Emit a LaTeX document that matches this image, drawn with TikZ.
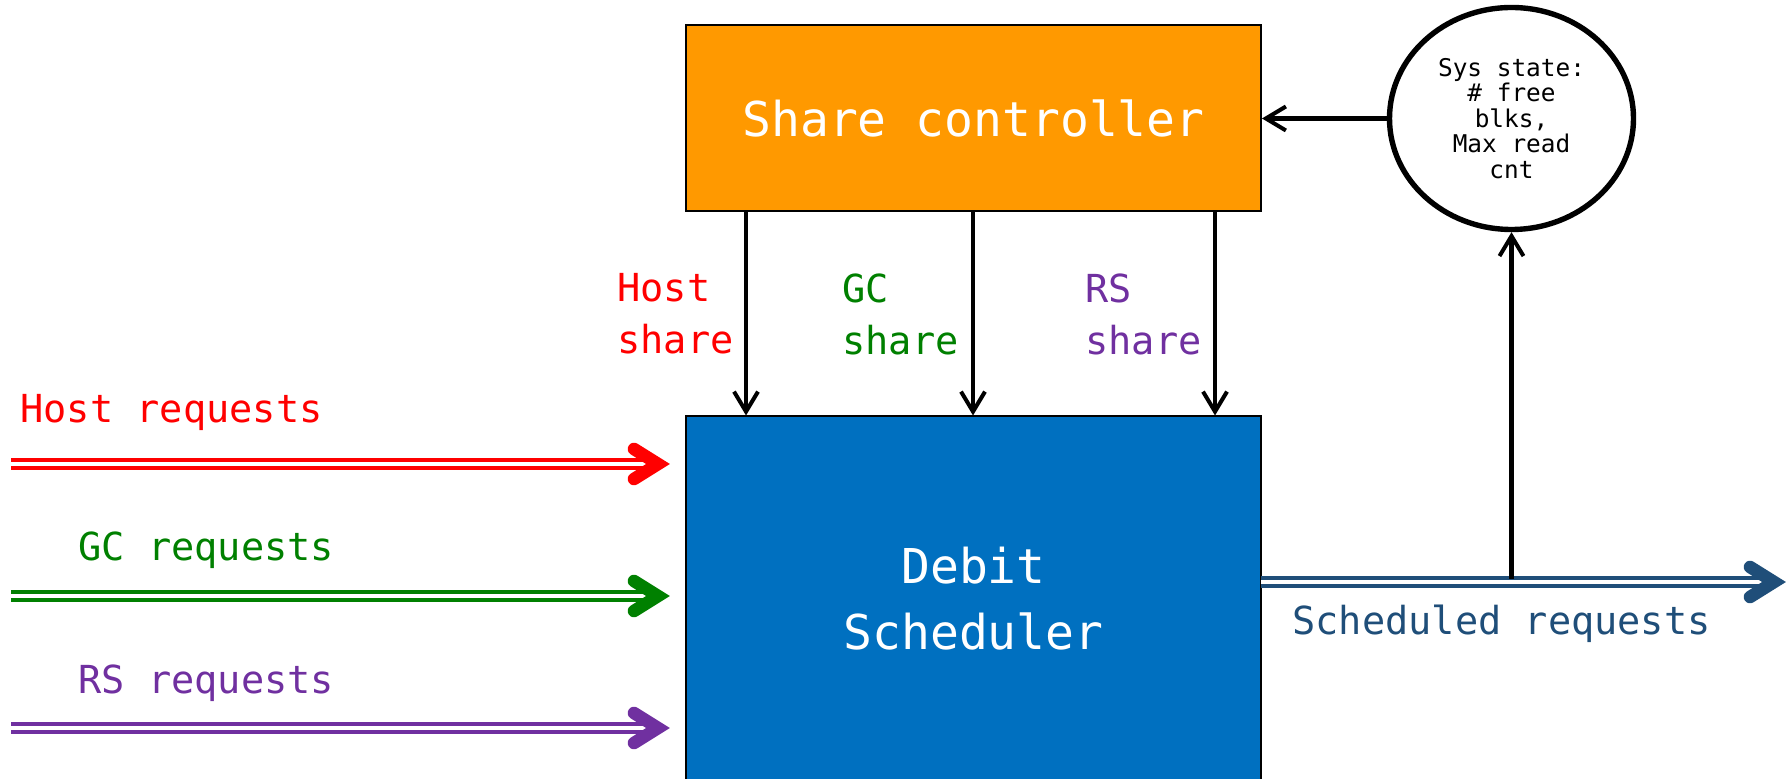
\documentclass[tikz,border=0pt]{standalone}
\usepackage{fontspec}
\newfontfamily\mono{DejaVu Sans Mono}
\usetikzlibrary{arrows.meta,shapes.geometric,calc}
\definecolor{hostred}{HTML}{FF0000}
\definecolor{gcgreen}{HTML}{008000}
\definecolor{rspurple}{HTML}{7030A0}
\definecolor{ctrlorange}{HTML}{FF9900}
\definecolor{schedblue}{HTML}{0070C0}
\definecolor{outnavy}{HTML}{1F4E79}

\begin{document}
\begin{tikzpicture}[x=0.5pt,y=-0.5pt,
  box/.style={draw=black, line width=1pt, rectangle, inner sep=0pt, text=white,
    font=\mono\fontsize{24}{33}\selectfont, align=center},
  lbl/.style={inner sep=0pt, anchor=west, align=left,
    font=\mono\fontsize{19.3}{26}\selectfont},
  feed/.style={line width=1.9pt, double=white, double distance=1.8pt},
  ctl/.style={line width=2.1pt, -{Straight Barb[length=10pt,width=12pt,line width=2pt]}},
  pics/chev/.style={code={\draw[line width=6.3pt, line cap=round, line join=miter]
    (-24,-15) -- (0,0) -- (-24,15);}}
]
\useasboundingbox (0,0) rectangle (1789,779);

% main blocks
\node[box, fill=ctrlorange, minimum width=287.5pt, minimum height=93pt] (ctrl)
  at (973.5,118) {Share controller};
\node[box, fill=schedblue, minimum width=287.5pt, minimum height=182.5pt] (deb)
  at (973.5,599) {Debit\\Scheduler};
\node[draw, ellipse, line width=2.7pt, minimum width=122pt, minimum height=111pt,
  inner sep=0pt, align=center, font=\mono\fontsize{12.2}{12.75}\selectfont] (sys)
  at (1511.5,118.5) {Sys state:\\\# free\\blks,\\Max read\\cnt};

% feedback to the controller
\draw[ctl] (sys.west) -- (sys.west -| ctrl.east);

% share signals
\coordinate (hx) at (746,0);
\coordinate (gx) at (973,0);
\coordinate (rx) at (1215,0);
\draw[ctl] (hx |- ctrl.south) -- (hx |- deb.north);
\draw[ctl] (gx |- ctrl.south) -- (gx |- deb.north);
\draw[ctl] (rx |- ctrl.south) -- (rx |- deb.north);
\node[lbl, text=hostred] (hsh) at (617,314) {Host\\share};
\node[lbl, text=gcgreen] (gsh) at (842,314) {GC\\share};
\node[lbl, text=rspurple] (rsh) at (1085,314) {RS\\share};

% incoming request streams
\coordinate (hin) at (11,464);
\coordinate (gin) at (11,596);
\coordinate (rin) at (11,728);
\draw[feed, hostred] (hin) -- ($(hin -| deb.west)+(-41,0)$);
\pic[hostred] at ($(hin -| deb.west)+(-27,0)$) {chev};
\draw[feed, gcgreen] (gin) -- ($(gin -| deb.west)+(-41,0)$);
\pic[gcgreen] at ($(gin -| deb.west)+(-27,0)$) {chev};
\draw[feed, rspurple] (rin) -- ($(rin -| deb.west)+(-41,0)$);
\pic[rspurple] at ($(rin -| deb.west)+(-27,0)$) {chev};
\node[lbl, text=hostred] (hrq) at (20,412) {Host requests};
\node[lbl, text=gcgreen] (grq) at (78,550) {GC requests};
\node[lbl, text=rspurple] (rrq) at (78,683) {RS requests};

% outgoing stream
\coordinate (sin) at (1261,582);
\coordinate (send) at (1774,582);
\draw[feed, outnavy] (sin) -- ($(send)+(-15,0)$);
\pic[outnavy] at (send) {chev};
\node[lbl, text=outnavy] (srq) at (1292,624) {Scheduled requests};

% state sampling
\coordinate (tap) at (1511.5,579);
\draw[ctl] (tap) -- (sys.south);
\end{tikzpicture}
\end{document}
